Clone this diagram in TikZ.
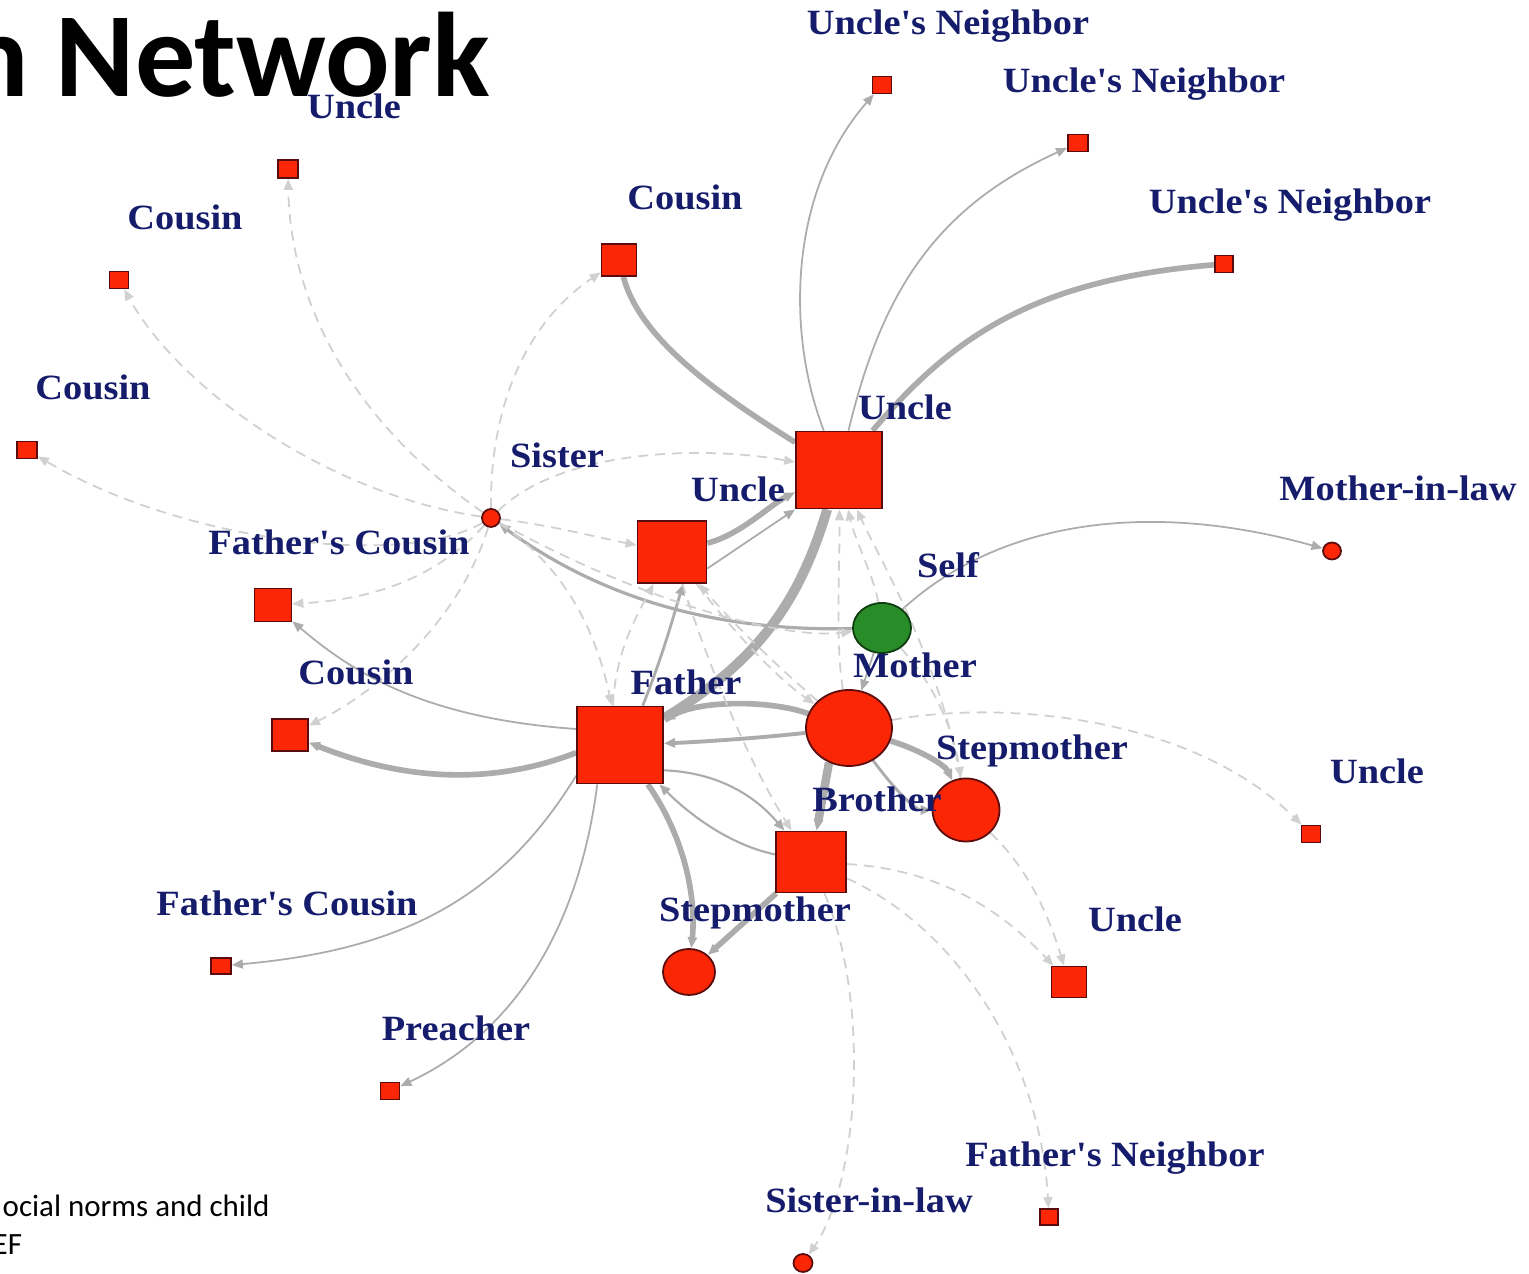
\documentclass[tikz,border=0pt]{standalone}
\usepackage{fontspec}
\usepackage{graphicx}
\usetikzlibrary{shapes.geometric,arrows.meta,calc}
\newfontfamily\lblfont{Liberation Serif}[FakeStretch=1.08]
\newfontfamily\carlito{Carlito}
\definecolor{nodered}{RGB}{250,38,5}
\definecolor{nodeborder}{RGB}{90,12,12}
\definecolor{selfgreen}{RGB}{40,140,40}
\definecolor{selfborder}{RGB}{15,60,15}
\definecolor{lblblue}{RGB}{22,28,108}
\definecolor{solgray}{RGB}{172,172,172}
\definecolor{dashgray}{RGB}{208,208,208}
\pgfdeclarelayer{back}
\pgfdeclarelayer{edges}
\pgfsetlayers{back,edges,main}
\tikzset{
  sq/.style={rectangle, draw=nodeborder, fill=nodered, line width=0.5pt, inner sep=0pt},
  ci/.style={ellipse, draw=nodeborder, fill=nodered, line width=0.5pt, inner sep=0pt},
  lbl/.style={anchor=base, text=lblblue, inner sep=0pt, font=\lblfont\bfseries\fontsize{10.1}{12}\selectfont},
  tipa/.style={-{Triangle[length=0.11cm,width=0.09cm]}},
  sol/.style={draw=solgray, line width=0.5pt, tipa},
  solnt/.style={draw=solgray, line width=0.5pt},
  das/.style={draw=dashgray, line width=0.5pt, dash pattern=on 0.1cm off 0.07cm, tipa},
}
\begin{document}
\begin{tikzpicture}[x=0.01cm,y=-0.01cm]
\useasboundingbox (0,0) rectangle (1529,1274);
\begin{pgfonlayer}{back}
\fill[white] (0,0) rectangle (1529,1274);
\end{pgfonlayer}
\clip (0,0) rectangle (1529,1274);

% ---------- nodes ----------
\node[sq, minimum width=0.20cm, minimum height=0.18cm] (u1) at (288,169) {};
\node[sq, minimum width=0.19cm, minimum height=0.17cm] (c1) at (119,280) {};
\node[sq, minimum width=0.20cm, minimum height=0.17cm] (c2) at (27,450) {};
\node[sq, minimum width=0.35cm, minimum height=0.32cm] (cous) at (619,260) {};
\node[sq, minimum width=0.19cm, minimum height=0.17cm] (un1) at (882,85) {};
\node[sq, minimum width=0.20cm, minimum height=0.17cm] (un2) at (1078,143) {};
\node[sq, minimum width=0.18cm, minimum height=0.17cm] (un3) at (1224,264) {};
\node[sq, minimum width=0.86cm, minimum height=0.77cm] (ub) at (839,470) {};
\node[sq, minimum width=0.69cm, minimum height=0.62cm] (um) at (672,552) {};
\node[ci, minimum width=0.18cm, minimum height=0.18cm] (sis) at (491,518) {};
\node[ci, minimum width=0.18cm, minimum height=0.17cm] (mil) at (1332,551) {};
\node[sq, minimum width=0.37cm, minimum height=0.33cm] (fc) at (273,605) {};
\node[ellipse, draw=selfborder, fill=selfgreen, line width=0.5pt, inner sep=0pt, minimum width=0.58cm, minimum height=0.50cm] (self) at (882,628) {};
\node[sq, minimum width=0.36cm, minimum height=0.32cm] (cous2) at (290,735) {};
\node[sq, minimum width=0.86cm, minimum height=0.77cm] (fa) at (620,745) {};
\node[ci, minimum width=0.86cm, minimum height=0.76cm] (mo) at (849,728) {};
\node[ci, minimum width=0.67cm, minimum height=0.63cm] (sm) at (966,810) {};
\node[sq, minimum width=0.19cm, minimum height=0.17cm] (ur) at (1311,834) {};
\node[sq, minimum width=0.70cm, minimum height=0.61cm] (br) at (811,862) {};
\node[ci, minimum width=0.52cm, minimum height=0.46cm] (sm2) at (689,972) {};
\node[sq, minimum width=0.35cm, minimum height=0.31cm] (ubot) at (1069,982) {};
\node[sq, minimum width=0.20cm, minimum height=0.16cm] (fc2) at (221,966) {};
\node[sq, minimum width=0.19cm, minimum height=0.17cm] (pr) at (390,1091) {};
\node[sq, minimum width=0.18cm, minimum height=0.16cm] (fn) at (1049,1217) {};
\node[ci, minimum width=0.19cm, minimum height=0.18cm] (sil) at (803,1263) {};

% ---------- edges ----------
\begin{pgfonlayer}{edges}
% solid
\draw[sol] (ub) .. controls (785,330) and (790,190) .. (un1);
\draw[sol] (ub) .. controls (880,300) and (930,210) .. (un2);
\draw[solnt, line width=1.6pt] (ub) .. controls (950,340) and (1030,280) .. (un3);
\draw[solnt, line width=1.6pt] (cous) .. controls (640,340) and (720,395) .. (ub);
\draw[solnt, line width=2.8pt] (ub) .. controls (800,600) and (760,660) .. (fa);
\draw[sol, line width=1.6pt] (um) .. controls (740,535) and (770,505) .. (ub);
\draw[sol] (um.-25) -- (ub.south west);
\draw[sol, line width=0.9pt] (self) .. controls (700,632) and (590,590) .. (sis);
\draw[sol] (self) .. controls (1000,520) and (1150,500) .. (mil);
\draw[sol] (self) -- (mo);
\draw[sol, line width=1.6pt] (mo) .. controls (770,700) and (700,700) .. (fa);
\draw[sol, line width=1.1pt] (mo) .. controls (760,738) and (700,742) .. (fa);
\draw[sol, line width=1.6pt] (mo) .. controls (920,750) and (945,765) .. (sm);
\draw[sol, line width=0.8pt] (mo) .. controls (895,790) and (915,810) .. (sm);
\draw[sol, line width=2.4pt] (mo.240) -- (br.80);
\draw[sol, line width=1.6pt] (br) -- (sm2);
\draw[sol, line width=0.6pt] (fa.-30) .. controls (710,772) and (750,790) .. (br);
\draw[sol, line width=0.6pt] (br) .. controls (730,845) and (690,815) .. (fa);
\draw[sol, line width=1.6pt] (fa) .. controls (680,830) and (697,890) .. (sm2);
\draw[sol, line width=0.8pt] (fa.60) .. controls (665,650) and (675,610) .. (um.-70);
\draw[sol] (fa.160) .. controls (420,718) and (350,670) .. (fc);
\draw[sol, line width=1.6pt] (fa.190) .. controls (480,790) and (390,775) .. (cous2);
\draw[sol] (fa.215) .. controls (500,900) and (400,950) .. (fc2);
\draw[sol] (fa.240) .. controls (580,920) and (520,1030) .. (pr);
% dashed
\draw[das] (sis) .. controls (350,420) and (290,300) .. (u1);
\draw[das] (sis) .. controls (330,495) and (180,390) .. (c1);
\draw[das] (sis) .. controls (400,570) and (180,540) .. (c2);
\draw[das] (sis) .. controls (490,400) and (530,320) .. (cous);
\draw[das] (sis) .. controls (550,525) and (600,538) .. (um);
\draw[das] (sis) .. controls (560,450) and (700,445) .. (ub);
\draw[das] (sis) .. controls (430,585) and (360,600) .. (fc);
\draw[das] (sis) .. controls (460,620) and (380,690) .. (cous2);
\draw[das] (sis) .. controls (570,570) and (598,640) .. (fa);
\draw[das] (sis) .. controls (640,600) and (780,640) .. (self);
\draw[das] (fa.100) .. controls (615,650) and (640,610) .. (um.-120);
\draw[das] (self) .. controls (875,580) and (855,540) .. (ub);
\draw[das] (mo) .. controls (835,640) and (840,570) .. (ub);
\draw[das] (sm) .. controls (940,660) and (880,560) .. (ub);
\draw[das] (mo) .. controls (770,660) and (730,620) .. (um);
\draw[das] (um) .. controls (740,640) and (780,680) .. (mo);
\draw[das] (um) .. controls (720,700) and (760,780) .. (br);
\draw[das] (self) .. controls (940,690) and (955,740) .. (sm);
\draw[das] (mo) .. controls (1000,700) and (1190,715) .. (ur);
\draw[das] (sm) .. controls (1030,870) and (1050,920) .. (ubot);
\draw[das] (br) .. controls (950,870) and (1010,920) .. (ubot);
\draw[das] (br) .. controls (960,930) and (1040,1060) .. (fn);
\draw[das] (br) .. controls (870,1000) and (860,1180) .. (sil);
\end{pgfonlayer}

% ---------- labels ----------
\node[lbl] (l-u1) at ($(u1)+(66,-50)$) {Uncle};
\node[lbl] (l-c1) at ($(c1)+(66,-50)$) {Cousin};
\node[lbl] (l-c2) at ($(c2)+(66,-50)$) {Cousin};
\node[lbl] (l-cous) at ($(cous)+(66,-50)$) {Cousin};
\node[lbl] (l-un1) at ($(un1)+(66,-50)$) {Uncle's Neighbor};
\node[lbl] (l-un2) at ($(un2)+(66,-50)$) {Uncle's Neighbor};
\node[lbl] (l-un3) at ($(un3)+(66,-50)$) {Uncle's Neighbor};
\node[lbl] (l-ub) at ($(ub)+(66,-50)$) {Uncle};
\node[lbl] (l-um) at ($(um)+(66,-50)$) {Uncle};
\node[lbl] (l-sis) at ($(sis)+(66,-50)$) {Sister};
\node[lbl] (l-mil) at ($(mil)+(66,-50)$) {Mother-in-law};
\node[lbl] (l-fc) at ($(fc)+(66,-50)$) {Father's Cousin};
\node[lbl] (l-self) at ($(self)+(66,-50)$) {Self};
\node[lbl] (l-cous2) at ($(cous2)+(66,-50)$) {Cousin};
\node[lbl] (l-fa) at ($(fa)+(66,-50)$) {Father};
\node[lbl] (l-mo) at ($(mo)+(66,-50)$) {Mother};
\node[lbl] (l-sm) at ($(sm)+(66,-50)$) {Stepmother};
\node[lbl] (l-ur) at ($(ur)+(66,-50)$) {Uncle};
\node[lbl] (l-br) at ($(br)+(66,-50)$) {Brother};
\node[lbl] (l-sm2) at ($(sm2)+(66,-50)$) {Stepmother};
\node[lbl] (l-ubot) at ($(ubot)+(66,-50)$) {Uncle};
\node[lbl] (l-fc2) at ($(fc2)+(66,-50)$) {Father's Cousin};
\node[lbl] (l-pr) at ($(pr)+(66,-50)$) {Preacher};
\node[lbl] (l-fn) at ($(fn)+(66,-50)$) {Father's Neighbor};
\node[lbl] (l-sil) at ($(sil)+(66,-50)$) {Sister-in-law};

% ---------- slide texts ----------
\node[anchor=base east, inner sep=0pt, font=\carlito\bfseries\fontsize{34.2}{40}\selectfont] (title) at (491,97) {n Network};
\node[anchor=base west, inner sep=0pt, font=\carlito\fontsize{8.8}{10}\selectfont] (foot1) at (2,1217) {ocial norms and child};
\node[anchor=base west, inner sep=0pt, font=\carlito\fontsize{8.8}{10}\selectfont] (foot2) at (-8,1255) {EF};
\end{tikzpicture}
\end{document}
